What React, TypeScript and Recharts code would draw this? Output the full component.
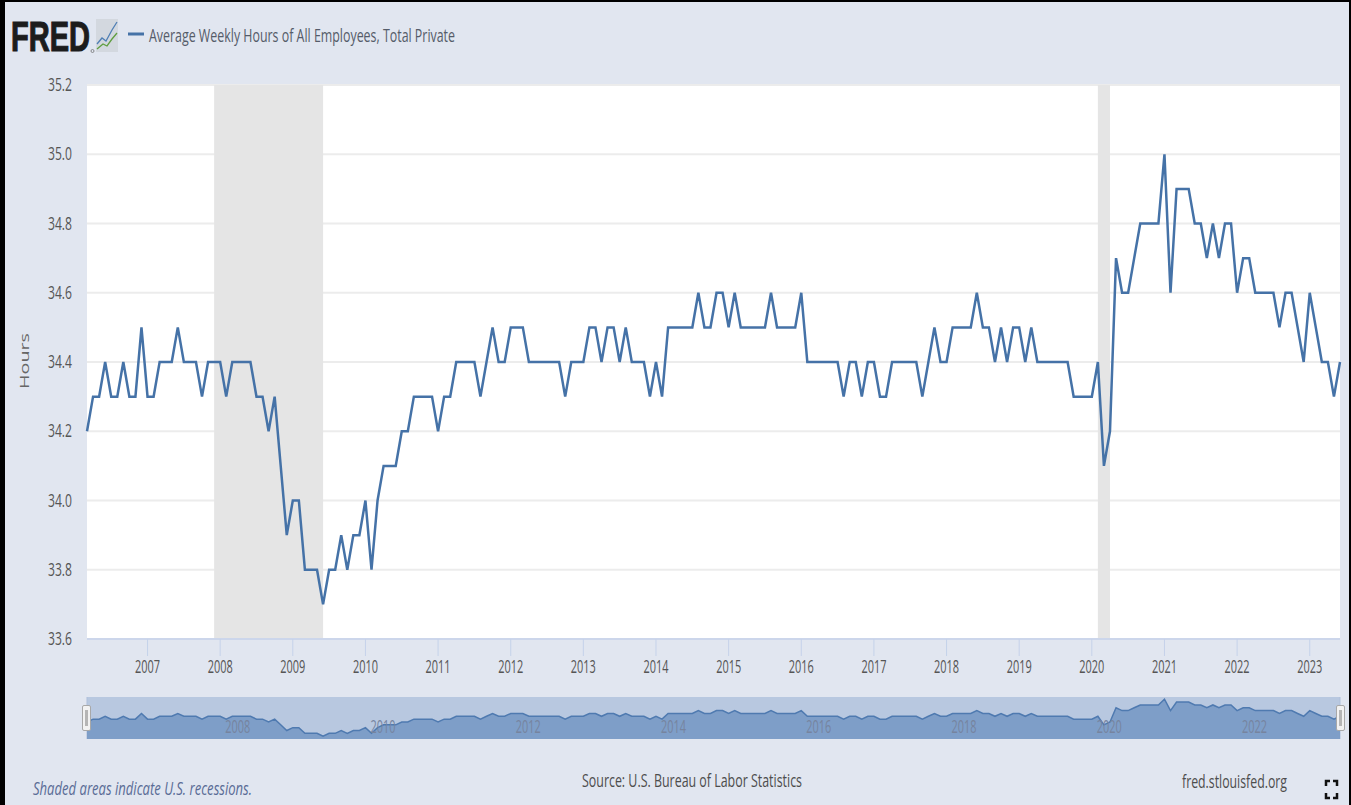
import { CartesianGrid, ComposedChart, Area, Line, ReferenceArea, XAxis, YAxis } from "recharts";

// monthly values, Mar 2006 onward
const values2006 = [34.2, 34.3, 34.3, 34.4, 34.3, 34.3, 34.4, 34.3, 34.3, 34.5];
const values2007 = [34.3, 34.3, 34.4, 34.4, 34.4, 34.5, 34.4, 34.4, 34.4, 34.3, 34.4, 34.4];
const values2008 = [34.4, 34.3, 34.4, 34.4, 34.4, 34.4, 34.3, 34.3, 34.2, 34.3, 34.1, 33.9];
const values2009 = [34.0, 34.0, 33.8, 33.8, 33.8, 33.7, 33.8, 33.8, 33.9, 33.8, 33.9, 33.9];
const values2010 = [34.0, 33.8, 34.0, 34.1, 34.1, 34.1, 34.2, 34.2, 34.3, 34.3, 34.3, 34.3];
const values2011 = [34.2, 34.3, 34.3, 34.4, 34.4, 34.4, 34.4, 34.3, 34.4, 34.5, 34.4, 34.4];
const values2012 = [34.5, 34.5, 34.5, 34.4, 34.4, 34.4, 34.4, 34.4, 34.4, 34.3, 34.4, 34.4];
const values2013 = [34.4, 34.5, 34.5, 34.4, 34.5, 34.5, 34.4, 34.5, 34.4, 34.4, 34.4, 34.3];
const values2014 = [34.4, 34.3, 34.5, 34.5, 34.5, 34.5, 34.5, 34.6, 34.5, 34.5, 34.6, 34.6];
const values2015 = [34.5, 34.6, 34.5, 34.5, 34.5, 34.5, 34.5, 34.6, 34.5, 34.5, 34.5, 34.5];
const values2016 = [34.6, 34.4, 34.4, 34.4, 34.4, 34.4, 34.4, 34.3, 34.4, 34.4, 34.3, 34.4];
const values2017 = [34.4, 34.3, 34.3, 34.4, 34.4, 34.4, 34.4, 34.4, 34.3, 34.4, 34.5, 34.4];
const values2018 = [34.4, 34.5, 34.5, 34.5, 34.5, 34.6, 34.5, 34.5, 34.4, 34.5, 34.4, 34.5];
const values2019 = [34.5, 34.4, 34.5, 34.4, 34.4, 34.4, 34.4, 34.4, 34.4, 34.3, 34.3, 34.3];
const values2020 = [34.3, 34.4, 34.1, 34.2, 34.7, 34.6, 34.6, 34.7, 34.8, 34.8, 34.8, 34.8];
const values2021 = [35.0, 34.6, 34.9, 34.9, 34.9, 34.8, 34.8, 34.7, 34.8, 34.7, 34.8, 34.8];
const values2022 = [34.6, 34.7, 34.7, 34.6, 34.6, 34.6, 34.6, 34.5, 34.6, 34.6, 34.5, 34.4];
const values2023 = [34.6, 34.5, 34.4, 34.4, 34.3, 34.4];

const hours = [
  ...values2006, ...values2007, ...values2008, ...values2009, ...values2010, ...values2011,
  ...values2012, ...values2013, ...values2014, ...values2015, ...values2016, ...values2017,
  ...values2018, ...values2019, ...values2020, ...values2021, ...values2022, ...values2023,
];

const yTicks = [33.6, 33.8, 34.0, 34.2, 34.4, 34.6, 34.8, 35.0, 35.2];
const yearTicks = ["2007", "2008", "2009", "2010", "2011", "2012", "2013", "2014", "2015", "2016", "2017", "2018", "2019", "2020", "2021", "2022", "2023"];
const navigatorYears = ["2008", "2010", "2012", "2014", "2016", "2018", "2020", "2022"];
const recessions = [
  ["2007-12", "2009-06"],
  ["2020-02", "2020-04"],
];

// month labels are the x categories: the series starts in March 2006
const monthLabel = (i: number) => {
  const n = 2006 * 12 + 2 + i;
  return `${Math.floor(n / 12)}-${String((n % 12) + 1).padStart(2, "0")}`;
};
const data = hours.map((value, i) => ({ month: monthLabel(i), value }));

const FONT = "'Open Sans', sans-serif";

// the picture is squeezed horizontally, so text gets a fixed drawn width
const YTick = ({ x, y, payload }: any) => (
  <text x={x - 7} y={y + 6} textAnchor="end" fontFamily={FONT} fontSize={18} fill="#555"
    textLength={24} lengthAdjust="spacingAndGlyphs">
    {payload.value.toFixed(1)}
  </text>
);

const XTick = ({ x, y, payload }: any) => (
  <text x={x} y={y + 15} textAnchor="middle" fontFamily={FONT} fontSize={18} fill="#555"
    textLength={25} lengthAdjust="spacingAndGlyphs">
    {payload.value.slice(0, 4)}
  </text>
);

const NavTick = ({ x, y, payload }: any) => (
  <text x={x + 5} y={y - 14} fontFamily={FONT} fontSize={18} fill="#76849f"
    textLength={25} lengthAdjust="spacingAndGlyphs">
    {payload.value.slice(0, 4)}
  </text>
);

const Caption = ({ x, y, width, color = "#4d4d4d", italic = false, children }: any) => (
  <text x={x} y={y} fontFamily={FONT} fontSize={18} fill={color} fontStyle={italic ? "italic" : "normal"}
    textLength={width} lengthAdjust="spacingAndGlyphs">
    {children}
  </text>
);

const Handle = ({ left }: { left: number }) => (
  <div style={{ position: "absolute", left, top: 705, width: 7, height: 24, background: "#f2f2f2", border: "1px solid #a8a8a8", borderRadius: 2 }}>
    <div style={{ position: "absolute", left: 2, top: 4, width: 3, height: 16, background: "#b5b5b5" }} />
  </div>
);

const NAV_MARGIN = { top: 7, right: 11, bottom: 10, left: 87 };

export default function App() {
  return (
    <div style={{ position: "absolute", left: 0, top: 0, width: 1351, height: 805, overflow: "hidden", background: "#e1e6f0" }}>
      <div style={{ position: "absolute", left: 0, top: 0 }}>
        <ComposedChart width={1351} height={691} data={data} margin={{ top: 85, right: 11, bottom: 0, left: 0 }}>
          <CartesianGrid horizontal vertical={false} stroke="#ececec" strokeWidth={2} fill="#fff" />
          {recessions.map(([from, to]) => (
            <ReferenceArea key={from} x1={from} x2={to} fill="#e5e5e5" fillOpacity={1} stroke="none" />
          ))}
          <XAxis dataKey="month" ticks={yearTicks.map((y) => `${y}-01`)} interval={0} height={52}
            tick={<XTick />} tickSize={17} axisLine={{ stroke: "#ccd6eb", strokeWidth: 2 }} tickLine={{ stroke: "#c5d2ea" }} />
          <YAxis domain={[33.6, 35.2]} ticks={yTicks} width={87} tick={<YTick />} axisLine={false} tickLine={false} />
          <Line dataKey="value" stroke="#4572a7" strokeWidth={2.5} dot={false} isAnimationActive={false} strokeLinejoin="miter" />
        </ComposedChart>
      </div>

      <div style={{ position: "absolute", left: 0, top: 690 }}>
        <ComposedChart width={1351} height={60} data={data} margin={NAV_MARGIN}>
          <CartesianGrid horizontal={false} vertical stroke="#aebfda" fill="#b8c8e0" />
          <XAxis dataKey="month" ticks={navigatorYears.map((y) => `${y}-01`)} interval={0} height={1} tick={false} tickLine={false} axisLine={false} />
          <YAxis hide domain={[33.6, 35.08]} />
          <Area dataKey="value" stroke="#4f7ab0" strokeWidth={1.5} fill="#6f93c2" fillOpacity={0.8} isAnimationActive={false} baseValue={33.6} />
        </ComposedChart>
      </div>
      {/* navigator year labels sit above the area, so they get their own layer */}
      <div style={{ position: "absolute", left: 0, top: 690 }}>
        <ComposedChart width={1351} height={60} data={data} margin={NAV_MARGIN}>
          <XAxis dataKey="month" ticks={navigatorYears.map((y) => `${y}-01`)} interval={0} height={1}
            tick={<NavTick />} tickLine={false} axisLine={false} />
          <YAxis hide domain={[33.6, 35.08]} />
        </ComposedChart>
      </div>
      <Handle left={82} />
      <Handle left={1336} />

      <svg width={1351} height={805} style={{ position: "absolute", left: 0, top: 0, pointerEvents: "none" }}>
        <rect x={0} y={0} width={1351} height={2} fill="#000" />
        <rect x={0} y={0} width={5} height={805} fill="#000" />
        <rect x={1349} y={0} width={2} height={805} fill="#000" />

        <text x={11} y={51} fontFamily="'Liberation Sans', sans-serif" fontWeight={700} fontSize={42} fill="#1c1c1c" stroke="#1c1c1c" strokeWidth={1.2}
          textLength={79} lengthAdjust="spacingAndGlyphs">
          FRED
        </text>
        <circle cx={92.5} cy={51} r={1.5} fill="none" stroke="#666" strokeWidth={0.7} />
        <rect x={96} y={19} width={22} height={33} fill="#d3d8df" />
        <polyline points="97,44 102,38 106,41 112,30 117,22" fill="none" stroke="#4f7fb5" strokeWidth={1.3} />
        <polyline points="97,49 103,44 107,46 112,39 117,33" fill="none" stroke="#5f9e3f" strokeWidth={1.3} />

        <line x1={128} x2={144} y1={34} y2={34} stroke="#4572a7" strokeWidth={3} />
        <Caption x={149} y={42} width={306} color="#555c69">Average Weekly Hours of All Employees, Total Private</Caption>
        <Caption x={582} y={787} width={220}>Source: U.S. Bureau of Labor Statistics</Caption>
        <Caption x={1182} y={788} width={105}>fred.stlouisfed.org</Caption>
        <Caption x={33} y={795} width={219} color="#5a6c96" italic>Shaded areas indicate U.S. recessions.</Caption>

        <text transform="translate(29,389) rotate(-90)" fontFamily={FONT} fontSize={13} fill="#666"
          textLength={56} lengthAdjust="spacingAndGlyphs">
          Hours
        </text>

        <path d="M1326 786v-5h4M1337 786v-5h-4M1326 793v5h4M1337 793v5h-4" fill="none" stroke="#111" strokeWidth={2.5} />
      </svg>
    </div>
  );
}
